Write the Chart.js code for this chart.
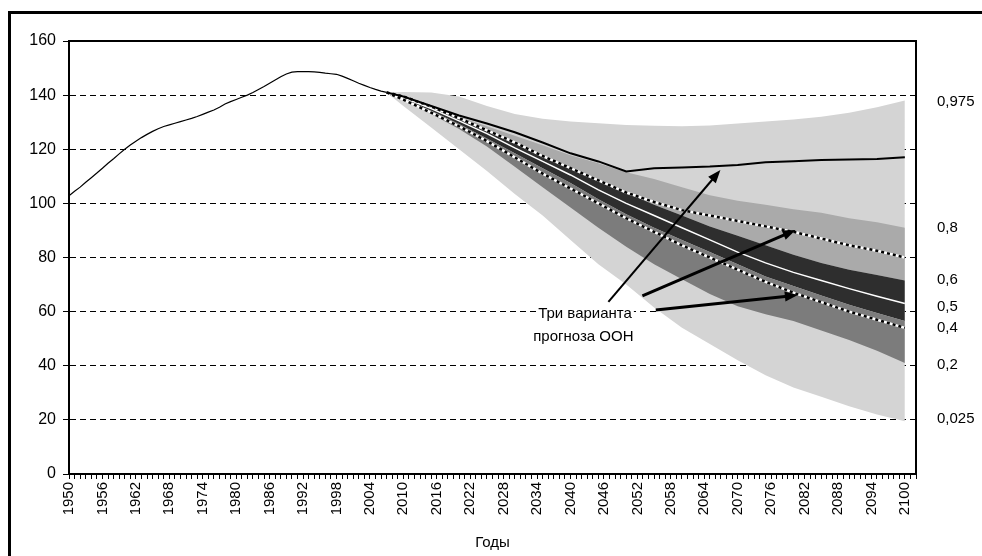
<!DOCTYPE html>
<html lang="ru">
<head>
<meta charset="utf-8">
<title>Прогноз численности населения</title>
<script src="https://cdn.jsdelivr.net/npm/chart.js@4.4.0/dist/chart.umd.min.js"></script>
<style>
  html, body { margin: 0; padding: 0; background: #fff; }
  #wrap { width: 982px; height: 556px; }
</style>
</head>
<body>
<div id="wrap"><canvas id="prognozChart" width="982" height="556"></canvas></div>
<script>
// Фактическая численность, млн (1950-2007)
const histStart = 1950;
const histValues = [
    102.8, 104.5, 106, 107.8, 109.5, 111.2, 113, 114.8, 116.5, 118.3,
    120, 121.6, 123, 124.3, 125.5, 126.6, 127.6, 128.4, 129, 129.6,
    130.2, 130.8, 131.4, 132.1, 132.9, 133.7, 134.5, 135.5, 136.7, 137.6,
    138.4, 139.2, 140, 141, 142.1, 143.2, 144.4, 145.6, 146.8, 147.8,
    148.5, 148.7, 148.7, 148.7, 148.6, 148.4, 148.1, 147.9, 147.7, 147,
    146.2, 145.3, 144.4, 143.6, 142.8, 142.1, 141.5, 141
];

// Вероятностный прогноз
const prognozYears = [2007, 2010, 2015, 2020, 2025, 2030, 2035, 2040, 2045, 2050,
                      2055, 2060, 2065, 2070, 2075, 2080, 2085, 2090, 2095, 2100];
const q975 = [141, 141.2, 141, 139.5, 136, 133, 131.3, 130.3, 129.6, 129, 128.7, 128.5, 128.8, 129.5, 130.3, 131, 132, 133.5, 135.5, 138];
const q80  = [141, 139.8, 136, 132, 128.5, 125, 121.5, 117.8, 114.8, 111.5, 109, 106, 103, 101, 99.5, 97.8, 96.5, 94.5, 93, 91];
const q60  = [141, 139.4, 135.5, 131.3, 127, 122.5, 118, 113.5, 108.5, 104, 99.5, 95.5, 91.5, 88, 84.5, 81, 78, 75.5, 73.5, 71.5];
const q50  = [141, 139, 135, 130.5, 125.8, 120.5, 115.5, 110.5, 105, 100, 95.5, 91, 86.5, 82, 78, 74.5, 71.5, 68.5, 65.7, 63];
const q40  = [141, 138.6, 134.2, 129.3, 124, 118.5, 113, 107.5, 101.5, 96, 91, 86.5, 82, 77.5, 73, 69.5, 66, 62.5, 59.5, 56.5];
const q20  = [141, 138, 133, 127.5, 121, 113.5, 106, 98.5, 91, 84, 77.5, 72, 66.5, 62, 59, 56.5, 53, 49.5, 45.5, 41];
const q025 = [141, 136, 128, 120, 112, 103.5, 95.5, 86.5, 77.5, 70, 61.5, 54, 48, 42, 36.5, 32, 28.5, 25, 22, 19.5];

// Три варианта прогноза ООН
const oonHigh   = [141, 139.5, 136, 132.5, 129.5, 126.3, 122.5, 118.5, 115.5, 111.8, 113, 113.3, 113.6, 114.2, 115.2, 115.6, 116, 116.2, 116.4, 117];
const oonMedium = [141, 139.5, 135.8, 131.5, 127, 122.5, 117.5, 113, 108.5, 104, 100.5, 97.5, 95.5, 93.5, 91.5, 89.5, 87, 84.5, 82.5, 80];
const oonLow    = [141, 138.3, 133.5, 128.5, 123, 117, 111, 105.5, 100, 94.5, 89.5, 84.5, 80, 75.5, 71, 67, 63.5, 60, 57, 54];

// Подписи квантилей справа
const quantileLabels = ['0,975', '0,8', '0,6', '0,5', '0,4', '0,2', '0,025'];
const quantileLabelValues = [137.5, 90.8, 71.8, 61.7, 53.9, 40.3, 20.3];

// Надпись и стрелки (в координатах год / млн)
const noteLines = ['Три варианта', 'прогноза ООН'];
const noteAt = [[2042.6, 59.1], [2042.3, 50.6]];
const arrowFrom = [[2046.8, 63.6], [2052.9, 65.8], [2055.3, 60.6]];
const arrowTo   = [[2066.9, 112.3], [2080.4, 90.2], [2080.8, 66.1]];

const FONT = '"Liberation Sans", Arial, sans-serif';

function pts(years, values) {
    return values.map((v, i) => ({ x: years[i], y: v }));
}
const histPoints = histValues.map((v, i) => ({ x: histStart + i, y: v }));

function band(values, color, target, order) {
    return {
        data: pts(prognozYears, values),
        borderWidth: 0,
        borderColor: 'rgba(0,0,0,0)',
        backgroundColor: color,
        pointRadius: 0,
        fill: target === null ? false : { target: target },
        order: order
    };
}

function line(values, color, width, dash, order) {
    return {
        data: values,
        borderColor: color,
        borderWidth: width,
        borderDash: dash,
        pointRadius: 0,
        fill: false,
        order: order
    };
}

const frameAndNotes = {
    id: 'frameAndNotes',
    beforeDraw(chart) {
        const { ctx } = chart;
        ctx.save();
        ctx.fillStyle = '#ffffff';
        ctx.fillRect(0, 0, chart.width, chart.height);
        ctx.restore();
    },
    afterDatasetsDraw(chart) {
        const { ctx, chartArea: a } = chart;
        const xs = chart.scales.x, ys = chart.scales.y;
        ctx.save();
        // верх и правая граница области построения
        ctx.strokeStyle = '#000';
        ctx.lineWidth = 2;
        ctx.beginPath();
        ctx.moveTo(a.left, a.top);
        ctx.lineTo(a.right, a.top);
        ctx.lineTo(a.right, a.bottom);
        ctx.stroke();

        // стрелки
        ctx.fillStyle = '#000';
        arrowFrom.forEach((f, i) => {
            const x1 = xs.getPixelForValue(f[0]), y1 = ys.getPixelForValue(f[1]);
            const x2 = xs.getPixelForValue(arrowTo[i][0]), y2 = ys.getPixelForValue(arrowTo[i][1]);
            const ang = Math.atan2(y2 - y1, x2 - x1);
            const len = 13, half = 5;
            ctx.lineWidth = i === 0 ? 2 : 3;
            ctx.beginPath();
            ctx.moveTo(x1, y1);
            ctx.lineTo(x2 - Math.cos(ang) * len * 0.8, y2 - Math.sin(ang) * len * 0.8);
            ctx.stroke();
            ctx.beginPath();
            ctx.moveTo(x2, y2);
            ctx.lineTo(x2 - Math.cos(ang) * len - Math.sin(ang) * half, y2 - Math.sin(ang) * len + Math.cos(ang) * half);
            ctx.lineTo(x2 - Math.cos(ang) * len + Math.sin(ang) * half, y2 - Math.sin(ang) * len - Math.cos(ang) * half);
            ctx.closePath();
            ctx.fill();
        });

        // надпись
        ctx.font = '15px ' + FONT;
        ctx.textAlign = 'center';
        ctx.textBaseline = 'middle';
        noteLines.forEach((t, i) => {
            const x = xs.getPixelForValue(noteAt[i][0]), y = ys.getPixelForValue(noteAt[i][1]);
            const w = ctx.measureText(t).width;
            ctx.fillStyle = '#fff';
            ctx.fillRect(x - w / 2 - 2, y - 9, w + 4, 18);
            ctx.fillStyle = '#000';
            ctx.fillText(t, x, y);
        });
        ctx.restore();
    },
    afterDraw(chart) {
        const { ctx, chartArea: a } = chart;
        const ys = chart.scales.y;
        ctx.save();
        ctx.font = '15px ' + FONT;
        ctx.fillStyle = '#000';
        ctx.textAlign = 'left';
        ctx.textBaseline = 'middle';
        quantileLabels.forEach((t, i) => {
            ctx.fillText(t, a.right + 21, ys.getPixelForValue(quantileLabelValues[i]));
        });
        // внешняя рамка
        ctx.strokeStyle = '#000';
        ctx.lineWidth = 3;
        ctx.beginPath();
        ctx.moveTo(9.5, chart.height);
        ctx.lineTo(9.5, 12.5);
        ctx.lineTo(chart.width, 12.5);
        ctx.stroke();
        ctx.restore();
    }
};

const ctx = document.getElementById('prognozChart').getContext('2d');
window.prognozChart = new Chart(ctx, {
    type: 'line',
    data: {
        datasets: [
            band(q975, '#d4d4d4', 1, 20),
            band(q025, '#d4d4d4', null, 21),
            band(q80, '#aaaaaa', 3, 18),
            band(q60, '#2e2e2e', 4, 17),
            band(q40, '#7c7c7c', 5, 16),
            band(q20, '#7c7c7c', null, 19),
            line(pts(prognozYears, q50), '#ffffff', 1.5, [], 8),
            line(pts(prognozYears, oonMedium), '#ffffff', 2.5, [], 7),
            line(pts(prognozYears, oonMedium), '#000000', 2.5, [3, 3], 6),
            line(pts(prognozYears, oonLow), '#ffffff', 2.5, [], 5),
            line(pts(prognozYears, oonLow), '#000000', 2.5, [3, 3], 4),
            line(pts(prognozYears, oonHigh), '#000000', 2, [], 3),
            line(histPoints, '#000000', 1.2, [], 2)
        ]
    },
    options: {
        responsive: false,
        animation: false,
        events: [],
        layout: { padding: { top: 41, right: 66, bottom: 0, left: 0 } },
        plugins: {
            legend: { display: false },
            tooltip: { enabled: false },
            title: { display: false }
        },
        elements: { line: { tension: 0 } },
        scales: {
            x: {
                type: 'linear',
                min: 1950,
                max: 2102,
                afterFit: (s) => { s.height = 82; },
                border: { display: true, color: '#000', width: 2 },
                grid: { display: true, drawOnChartArea: false, drawTicks: true, tickLength: 5, tickColor: '#000', tickWidth: 1 },
                ticks: {
                    stepSize: 1,
                    autoSkip: false,
                    minRotation: 90,
                    maxRotation: 90,
                    padding: 3,
                    color: '#000',
                    font: { family: FONT, size: 15 },
                    callback: (v) => ((v - 1950) % 6 === 0 && v <= 2100) ? String(v) : ''
                },
                title: { display: true, text: 'Годы', color: '#000', font: { family: FONT, size: 15 }, padding: { top: 2, bottom: 4 } }
            },
            y: {
                min: 0,
                max: 160,
                afterFit: (s) => { s.width = 69; },
                border: { display: true, color: '#000', width: 2, dash: [6, 4] },
                grid: { color: '#000', lineWidth: 1, drawTicks: true, tickLength: 6, tickColor: '#000', tickBorderDash: [] },
                ticks: { stepSize: 20, padding: 7, color: '#000', font: { family: FONT, size: 16 } }
            }
        }
    },
    plugins: [frameAndNotes]
});
</script>
</body>
</html>
